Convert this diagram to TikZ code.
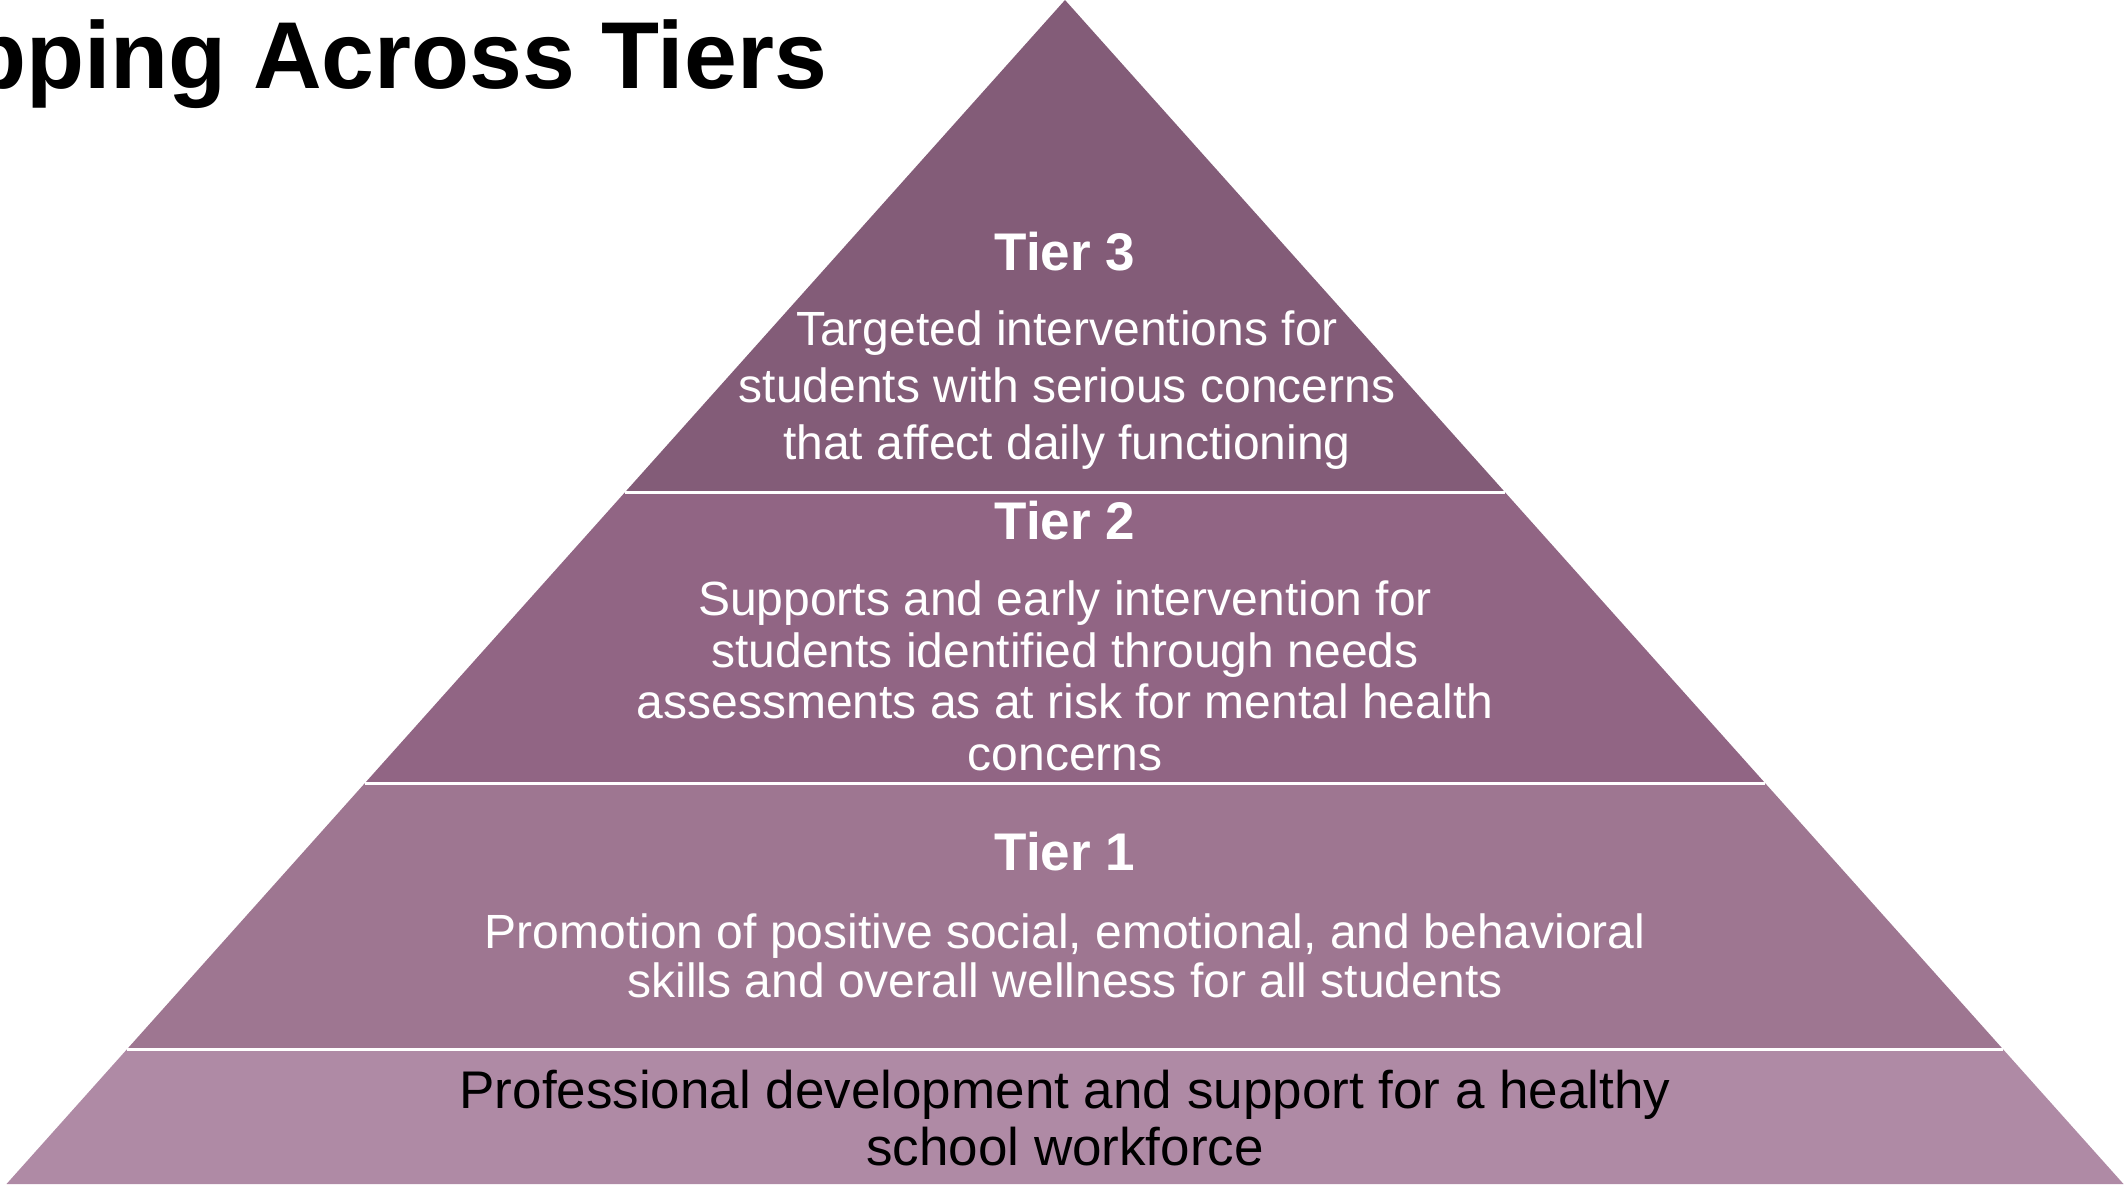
\documentclass[tikz,border=0pt]{standalone}
\usepackage{fontspec}
\setmainfont{Liberation Sans}
\definecolor{tthree}{RGB}{131,92,120}
\definecolor{ttwo}{RGB}{145,101,132}
\definecolor{tone}{RGB}{158,118,145}
\definecolor{tbase}{RGB}{175,138,165}
\begin{document}
\begin{tikzpicture}[x=1pt,y=-1pt,
  head/.style={text=white, anchor=base, inner sep=0pt, font=\bfseries\fontsize{53}{60}\selectfont},
  body/.style={text=white, align=center, anchor=base, inner sep=0pt},
  sep/.style={draw=white, line width=3pt}]
\fill[white] (0,0) rectangle (2124,1184);
\useasboundingbox (0,0) rectangle (2124,1184);
% layers
\coordinate (apex) at (1065,0);
\coordinate (l3) at (625.2,492);   \coordinate (r3) at (1504.8,492);
\coordinate (l2) at (365.0,783);   \coordinate (r2) at (1765.0,783);
\coordinate (l1) at (127.2,1049);  \coordinate (r1) at (2002.8,1049);
\coordinate (l0) at (6.5,1184);    \coordinate (r0) at (2123.5,1184);
\fill[tthree] (apex) -- (l3) -- (r3) -- cycle;
\fill[ttwo] (l3) -- (l2) -- (r2) -- (r3) -- cycle;
\fill[tone] (l2) -- (l1) -- (r1) -- (r2) -- cycle;
\fill[tbase] (l1) -- (l0) -- (r0) -- (r1) -- cycle;
\draw[sep] (l3) -- (r3);
\draw[sep] (l2) -- (r2);
\draw[sep] (l1) -- (r1);
% title
\node[anchor=base west, inner sep=0pt, font=\bfseries\fontsize{95}{110}\selectfont] (title) at (-32,88) {pping Across Tiers};
% tier 3
\node[head] (t3h) at (1065,270) {Tier 3};
\node[body, font=\fontsize{48}{57}\selectfont] (t3b) at (1067,459) {Targeted interventions for\\students with serious concerns\\that affect daily functioning};
% tier 2
\node[head] (t2h) at (1065,539) {Tier 2};
\node[body, font=\fontsize{48}{51.5}\selectfont] (t2b) at (1065,770) {Supports and early intervention for\\students identified through needs\\assessments as at risk for mental health\\concerns};
% tier 1
\node[head] (t1h) at (1065,870) {Tier 1};
\node[body, font=\fontsize{48}{49}\selectfont] (t1b) at (1065,997) {Promotion of positive social, emotional, and behavioral\\skills and overall wellness for all students};
% base
\node[body, text=black, font=\fontsize{53}{57}\selectfont] (t0b) at (1065,1165) {Professional development and support for a healthy\\school workforce};
\end{tikzpicture}
\end{document}
